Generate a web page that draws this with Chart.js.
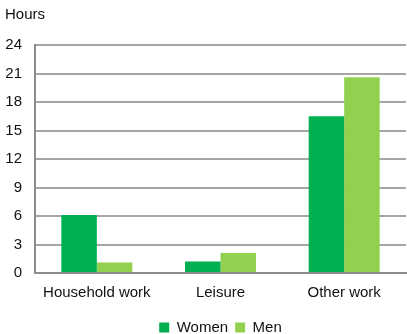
<!DOCTYPE html>
<html>
<head>
<meta charset="utf-8">
<script src="https://cdn.jsdelivr.net/npm/chart.js@4/dist/chart.umd.min.js"></script>
<style>
  html, body { margin: 0; padding: 0; background: #fff; }
  #wrap { width: 407px; height: 334px; }
</style>
</head>
<body>
<div id="wrap"><canvas id="chart" width="407" height="334"></canvas></div>
<script>
const categories = ["Household work", "Leisure", "Other work"];
const women = [6.1, 1.2, 16.5];
const men = [1.1, 2.1, 20.6];
const yTicks = [0, 3, 6, 9, 12, 15, 18, 21, 24];

const FONT = "'Liberation Sans', Arial, sans-serif";

new Chart(document.getElementById("chart"), {
  type: "bar",
  data: {
    labels: categories,
    datasets: [
      { label: "Women", data: women, backgroundColor: "#00b050" },
      { label: "Men", data: men, backgroundColor: "#92d050" }
    ]
  },
  options: {
    responsive: false,
    animation: false,
    layout: { padding: { left: 5, right: 1, top: 6, bottom: -11 } },
    datasets: {
      bar: { categoryPercentage: 0.574, barPercentage: 1.0 }
    },
    plugins: {
      title: {
        display: true,
        text: "Hours",
        align: "start",
        color: "#111",
        font: { family: FONT, size: 15, weight: "normal" },
        padding: { top: 0, bottom: 21 }
      },
      legend: {
        position: "bottom",
        fullSize: false,
        labels: {
          color: "#111",
          font: { family: FONT, size: 15 },
          boxWidth: 10,
          boxHeight: 10,
          padding: 7
        }
      },
      tooltip: { enabled: false }
    },
    scales: {
      x: {
        grid: {
          drawTicks: false,
          color: (c) => (c.index === categories.length ? "#c8c8c8" : "rgba(0,0,0,0)"),
          lineWidth: 1
        },
        border: { color: "#8c8c8c", width: 2 },
        ticks: {
          color: "#111",
          font: { family: FONT, size: 15 },
          padding: 11
        },
        afterFit: (s) => { s.paddingLeft = 0; s.paddingRight = 0; }
      },
      y: {
        min: 0,
        max: 24,
        afterBuildTicks: (axis) => { axis.ticks = yTicks.map((v) => ({ value: v })); },
        afterFit: (s) => { s.width = 30; },
        grid: { color: "#a6a6a6", lineWidth: 2, drawTicks: false },
        border: { color: "#8c8c8c", width: 2 },
        ticks: {
          color: "#111",
          font: { family: FONT, size: 15 },
          padding: 13
        }
      }
    }
  }
});
</script>
</body>
</html>
